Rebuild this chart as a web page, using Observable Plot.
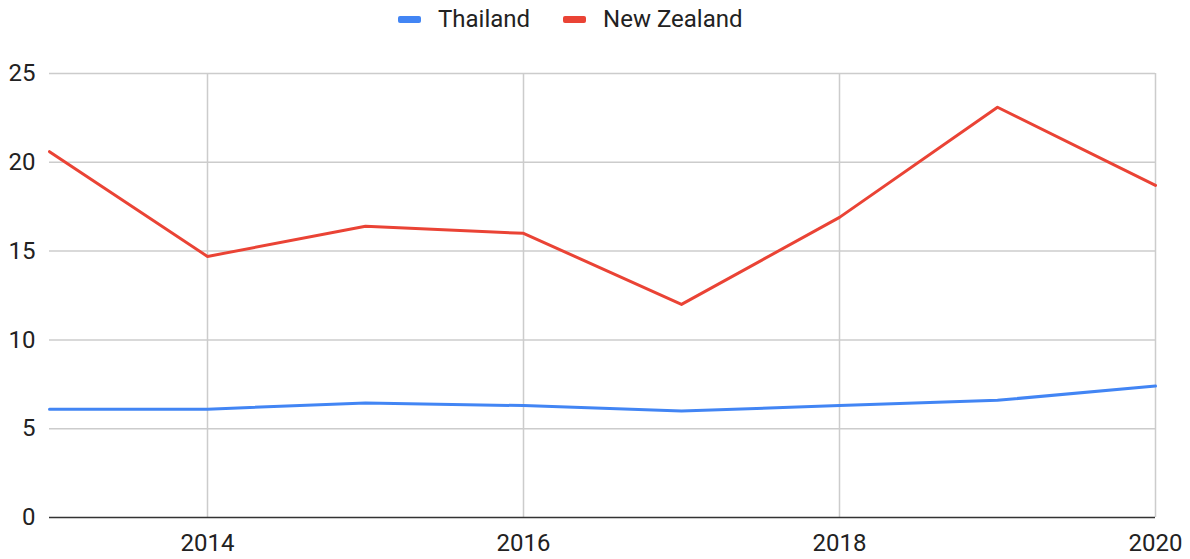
<!DOCTYPE html>
<html>
<head>
<meta charset="utf-8">
<script src="https://cdn.jsdelivr.net/npm/d3@7"></script>
<script src="https://cdn.jsdelivr.net/npm/@observablehq/plot@0.6"></script>
<style>
  body { margin: 0; background: #fff; font-family: Roboto, "Liberation Sans", sans-serif; }
  #legend { height: 38px; display: flex; justify-content: flex-start; align-items: center; padding-left: 398px; font-size: 24px; color: #222; box-sizing: border-box; }
  .item { display: flex; align-items: center; margin-right: 33px; }
  .sw { width: 23px; height: 7px; border-radius: 2px; margin-right: 17px; }
</style>
</head>
<body>
<div id="legend"></div>
<div id="chart"></div>
<script>
const years = [2013, 2014, 2015, 2016, 2017, 2018, 2019, 2020];
const thailand = [6.1, 6.1, 6.45, 6.3, 6.0, 6.3, 6.6, 7.4];
const newZealand = [20.6, 14.7, 16.4, 16.0, 12.0, 16.9, 23.1, 18.7];
const seriesNames = ["Thailand", "New Zealand"];
const seriesColors = ["#4285F4", "#EA4335"];
const xTicks = [2014, 2016, 2018, 2020];
const yTicks = [0, 5, 10, 15, 20, 25];

const data = [];
years.forEach((y, i) => {
  data.push({year: y, value: thailand[i], series: seriesNames[0]});
  data.push({year: y, value: newZealand[i], series: seriesNames[1]});
});

const legend = document.getElementById("legend");
seriesNames.forEach((n, i) => {
  const it = document.createElement("div");
  it.className = "item";
  it.innerHTML = `<span class="sw" style="background:${seriesColors[i]}"></span><span>${n}</span>`;
  legend.appendChild(it);
});

const chart = Plot.plot({
  width: 1190,
  height: 521,
  marginTop: 35,
  marginBottom: 42,
  marginLeft: 49,
  marginRight: 35,
  style: {fontFamily: "Roboto, 'Liberation Sans', sans-serif", fontSize: "24px", color: "#222", overflow: "visible"},
  x: {domain: [2013, 2020], ticks: xTicks, tickFormat: d => String(d), tickSize: 0, tickPadding: 16, label: null},
  y: {domain: [0, 25], ticks: yTicks, tickSize: 0, tickPadding: 14, label: null},
  color: {domain: seriesNames, range: seriesColors},
  marks: [
    Plot.ruleY(yTicks.filter(d => d > 0), {stroke: "#cccccc", strokeWidth: 1.5}),
    Plot.ruleX(xTicks, {stroke: "#cccccc", strokeWidth: 1.5}),
    Plot.line(data, {x: "year", y: "value", z: "series", stroke: "series", strokeWidth: 3, strokeLinejoin: "round"}),
    Plot.ruleY([0], {stroke: "#333333", strokeWidth: 1.5})
  ]
});
document.getElementById("chart").appendChild(chart);
</script>
</body>
</html>
